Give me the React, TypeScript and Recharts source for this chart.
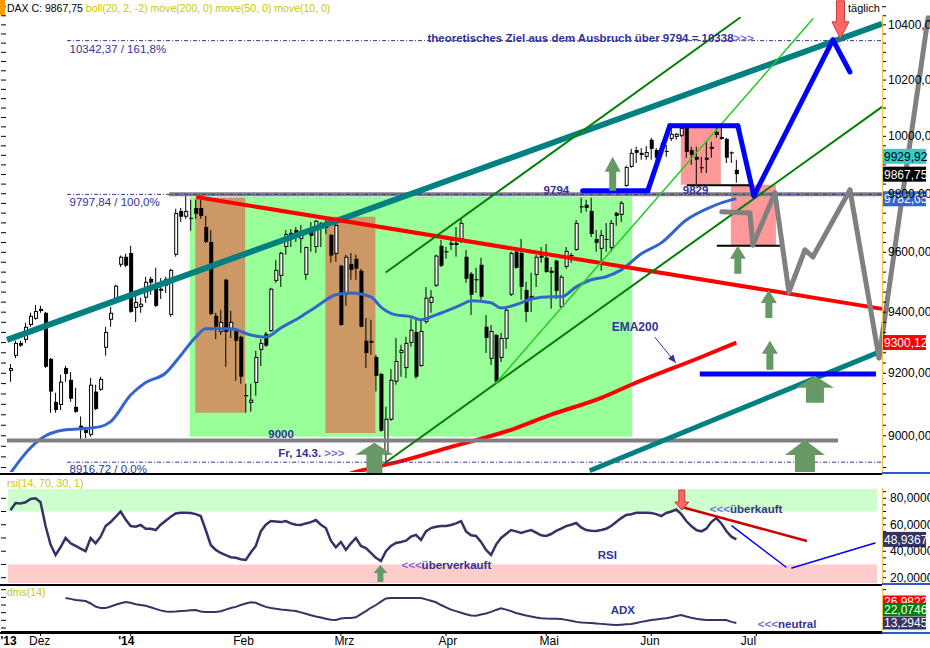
import React from 'react';
import {
  ComposedChart, Bar, Line, XAxis, YAxis,
  ReferenceLine, ReferenceArea, ReferenceDot,
} from 'recharts';

const FONT = 'Arial, "Liberation Sans", Helvetica, sans-serif';
const NAVY = '#333399';
const LIGHT = '#7070dd';

// ---------- DAX daily candles (22.11.2013 - 25.06.2014), index = trading day ----------
const opens = [
  9208, 9257, 9299, 9309, 9358, 9378, 9404, 9398, 9247, 9108,
  9098, 9217, 9179, 9092, 9032, 9019, 9003, 9141, 9147, 9283,
  9375, 9444, 9558, 9585, 9598, 9414, 9417, 9448, 9511, 9481,
  9471, 9488, 9391, 9592, 9741, 9721, 9717, 9751, 9751, 9686,
  9635, 9388, 9335, 9508, 9345, 9338, 9319, 9130, 9105, 9169,
  9276, 9329, 9338, 9504, 9521, 9618, 9666, 9676, 9645, 9524,
  9669, 9618, 9690, 9703, 9659, 9595, 9555, 9458, 9561, 9578,
  9538, 9306, 9299, 9253, 9198, 8940, 9051, 9173, 9266, 9217,
  9299, 9335, 9224, 9368, 9431, 9488, 9622, 9604, 9632, 9632,
  9645, 9585, 9528, 9510, 9558, 9352, 9247, 9325, 9250, 9312,
  9458, 9602, 9598, 9474, 9454, 9524, 9582, 9582, 9538, 9572,
  9417, 9551, 9591, 9608, 9753, 9762, 9741, 9645, 9612, 9642,
  9615, 9734, 9727, 9827, 9893, 9952, 9935, 9928, 9988, 9952,
  9958, 9945, 9991, 9998, 10002, 10030, 9952, 9928, 9892, 9925,
  9963, 10016, 9998, 9991, 9944, 9883,
];
const highs = [
  9230, 9306, 9306, 9365, 9398, 9424, 9421, 9401, 9250, 9137,
  9195, 9224, 9204, 9153, 9061, 9029, 9185, 9163, 9189, 9352,
  9417, 9491, 9589, 9595, 9622, 9458, 9448, 9518, 9518, 9548,
  9514, 9518, 9545, 9748, 9751, 9794, 9779, 9779, 9779, 9724,
  9676, 9398, 9408, 9511, 9404, 9348, 9322, 9166, 9166, 9273,
  9312, 9335, 9481, 9575, 9602, 9676, 9679, 9686, 9693, 9620,
  9703, 9710, 9703, 9710, 9662, 9700, 9558, 9592, 9598, 9592,
  9545, 9381, 9375, 9260, 9201, 9092, 9214, 9315, 9293, 9319,
  9378, 9375, 9375, 9484, 9474, 9592, 9642, 9618, 9642, 9686,
  9714, 9608, 9534, 9548, 9582, 9391, 9358, 9328, 9332, 9417,
  9602, 9618, 9645, 9501, 9531, 9592, 9618, 9628, 9551, 9575,
  9524, 9618, 9598, 9710, 9786, 9779, 9786, 9676, 9676, 9700,
  9710, 9738, 9775, 9897, 9956, 9963, 9959, 9966, 9995, 9959,
  9977, 9970, 10030, 10012, 10033, 10036, 9963, 9963, 9928, 9981,
  9981, 10030, 10047, 9995, 9947, 9918,
];
const lows = [
  9173, 9250, 9286, 9299, 9352, 9375, 9398, 9217, 9073, 9073,
  9082, 9173, 9108, 9073, 8984, 8993, 8997, 9082, 9144, 9257,
  9352, 9438, 9551, 9551, 9398, 9368, 9398, 9431, 9458, 9417,
  9444, 9464, 9385, 9585, 9703, 9714, 9673, 9714, 9714, 9632,
  9391, 9312, 9325, 9221, 9315, 9176, 9166, 9073, 9076, 9128,
  9224, 9286, 9335, 9498, 9484, 9592, 9618, 9635, 9598, 9508,
  9602, 9598, 9618, 9662, 9565, 9568, 9355, 9421, 9508, 9508,
  9350, 9217, 9260, 9141, 9013, 8916.72, 9048, 9163, 9189, 9185,
  9286, 9182, 9221, 9362, 9398, 9484, 9551, 9578, 9608, 9585,
  9632, 9498, 9391, 9464, 9441, 9266, 9227, 9169, 9237, 9280,
  9454, 9545, 9441, 9368, 9401, 9484, 9565, 9531, 9411, 9444,
  9414, 9545, 9565, 9605, 9734, 9738, 9652, 9602, 9538, 9602,
  9602, 9690, 9703, 9824, 9890, 9907, 9918, 9918, 9918, 9900,
  9928, 9928, 9984, 9988, 9998, 9925, 9900, 9834, 9872, 9872,
  9925, 9995, 9988, 9907, 9907, 9838,
];
const closes = [
  9217, 9299, 9290, 9352, 9388, 9404, 9411, 9221, 9141, 9082,
  9173, 9198, 9118, 9076, 9019, 9009, 9163, 9085, 9182, 9335,
  9398, 9488, 9585, 9555, 9401, 9434, 9428, 9501, 9498, 9421,
  9478, 9511, 9541, 9734, 9721, 9741, 9714, 9731, 9724, 9635,
  9394, 9352, 9368, 9335, 9368, 9306, 9189, 9126, 9115, 9253,
  9299, 9290, 9478, 9541, 9598, 9662, 9656, 9656, 9666, 9618,
  9656, 9707, 9700, 9683, 9589, 9693, 9358, 9585, 9541, 9545,
  9352, 9266, 9306, 9192, 9016, 9054, 9179, 9240, 9276, 9299,
  9342, 9189, 9338, 9448, 9451, 9589, 9555, 9600, 9625, 9625,
  9700, 9511, 9458, 9506, 9451, 9315, 9338, 9173, 9315, 9408,
  9598, 9548, 9484, 9401, 9448, 9585, 9589, 9534, 9531, 9471,
  9518, 9605, 9587, 9700, 9757, 9751, 9662, 9632, 9659, 9645,
  9700, 9724, 9769, 9893, 9942, 9942, 9942, 9945, 9956, 9925,
  9954, 9949, 10009, 10009, 10030, 9945, 9935, 9918, 9888, 9918,
  9956, 10005, 9991, 9925, 9940, 9867.75,
];

// moving averages: [trading-day index, value]
const ma50Points = [
  [0, 8883], [4, 8962], [6, 8990], [11, 9019], [14, 9022], [18, 9029], [20, 9045],
  [24, 9130], [27, 9170], [31, 9201], [34, 9258], [37, 9318], [39, 9345], [44, 9345],
  [48, 9325], [51, 9318], [54, 9348], [58, 9385], [61, 9417], [65, 9458], [68, 9464],
  [72, 9451], [74, 9417], [77, 9391], [80, 9385], [82, 9375], [85, 9391], [90, 9424],
  [92, 9438], [96, 9431], [98, 9414], [102, 9431], [104, 9444], [108, 9451], [110, 9451],
  [113, 9484], [116, 9508], [119, 9518], [122, 9541], [126, 9595], [130, 9632],
  [135, 9710], [140, 9755], [144, 9779], [145, 9782.65],
];
const ema200Points = [
  [66, 8872], [69, 8886], [78, 8920], [88, 8965], [100, 9019], [108, 9067],
  [118, 9121], [124, 9163], [138, 9253], [145, 9300.12],
];

const rsiValues = [
  71, 76.4, 76, 77, 79.5, 80, 77, 59, 45, 37.2,
  43, 50, 46, 44, 42, 40, 50, 46, 51, 59,
  62, 66, 70, 64, 59, 58.5, 59.8, 57, 57, 56,
  60, 63, 66, 68.5, 69, 69, 68.9, 68, 66.6, 56,
  44.7, 41, 38.7, 37, 35.5, 35, 34, 33.4, 39, 44,
  55, 60, 62.8, 62.5, 62, 62.8, 61, 60, 59.8, 61,
  62, 63.6, 60, 57.5, 48, 43, 47, 41, 46, 50,
  44, 42.4, 38.7, 35, 32.6, 40, 44, 46.2, 47, 48,
  51, 52.3, 48.5, 55, 57.5, 58.5, 59, 59, 59.8, 61,
  62.8, 55, 52, 51.5, 47, 41, 37.2, 45, 50, 53,
  56, 55, 53.8, 55, 56, 54, 52, 51.5, 53, 55.3,
  57, 59, 60, 61.3, 58, 56, 55.5, 55.3, 56, 57,
  59, 62, 65, 67.4, 68, 69, 69, 69, 68.9, 68,
  66.6, 68.9, 70, 71.5, 68, 62.8, 59, 56, 55, 57,
  62, 65, 61, 55.3, 51, 48.9367,
];
const adxValues = [
  null, null, null, null, null, null, null, null, null, null,
  null, 29.6, 29, 28.3, 28, 27.6, 26, 24, 23, 23,
  24, 25.2, 26.2, 27, 26.5, 25.5, 25, 24.5, 23.5, 22.5,
  21.5, 20.8, 20.6, 20.8, 21.1, 21.3, 21.6, 21.8, 20.8, 20.5,
  20.5, 20.5, 21, 22, 23, 23.8, 25, 26, 26.8, 26.5,
  25, 23.8, 23, 22.5, 22.1, 21.8, 21.4, 21.1, 20.2, 19.3,
  18.3, 17.5, 16.8, 16.1, 15.4, 15.2, 16.2, 16.5, 16.5, 17,
  19, 21, 23.2, 25, 27.2, 29.3, 29.6, 29.6, 29.6, 29.6,
  29.6, 29.6, 29.6, 28.7, 27.8, 26.8, 25, 23.5, 22, 21,
  20, 19, 18.2, 18, 18.8, 19.5, 20.5, 21.8, 22.8, 22,
  21, 19.8, 19, 18.2, 17.5, 16.8, 16.4, 16.2, 16.1, 16,
  15.9, 15.3, 14.7, 14, 13.6, 13.4, 13.3, 13, 12.7, 12.4,
  12.2, 12, 12.2, 12.4, 12.6, 13.3, 14, 14.6, 15.2, 15.6,
  16, 16.4, 17, 17.8, 18.5, 17.5, 16.7, 16, 15.6, 15.2,
  15.2, 15.2, 15.2, 15.2, 14, 13.2945,
];

const monthTickIndex = [0, 6, 24, 46, 66, 87, 107, 128, 149];
const monthTickLabel = ["'13", 'Dez', "'14", 'Feb', 'Mrz', 'Apr', 'Mai', 'Jun', 'Jul'];
const monthLabelShift = [-10, -11.5, -12.5, -7.5, -6.5, -7.5, -6.5, -11, -15.5];

// ---------- drawn objects (trading-day index, price) ----------
const tealUpper = [[-0.7, 9309], [174.1, 10404]];
const tealLower = [[115.7, 8890], [174.1, 9273]];
const redDown = [[37.1, 9789], [174.1, 9411]];
const greenLow = [[75, 8916.72], [174.1, 10104]];
const greenHigh = [[75.1, 9534], [145.7, 10426]];
const limeLine = [[97, 9169], [160.3, 10422]];
const blueProj = [[114.3, 9810], [127.3, 9810], [131.7, 10037], [145.3, 10037], [148.5, 9793], [164.3, 10345], [167.7, 10229]];
const blueLow = [[137.7, 9198], [172.9, 9198]];
const grayProj = [[142.1, 9738], [147.7, 9734], [148.3, 9625], [152.7, 9803], [155.5, 9467], [158.7, 9608], [160.3, 9585], [167.7, 9813], [173.5, 9250], [183.3, 10426]];
const emaArrow = [[128.7, 9318], [132.9, 9234]];

const priceTags = [
  { v: 9929.92, bg: '#33cccc', fg: '#000' },
  { v: 9867.75, bg: '#000000', fg: '#fff' },
  { v: 9782.65, bg: '#3366cc', fg: '#fff' },
  { v: 9300.12, bg: '#ff0000', fg: '#fff' },
];
const adxTags = [
  { v: 26.9822, bg: '#ff0000', fg: '#fff' },
  { v: 22.0746, bg: '#008000', fg: '#fff' },
  { v: 13.2945, bg: '#333366', fg: '#fff' },
];

const X_DOMAIN = [-1.9, 174.1];
const X_RIGHT = 174.1;
const PRICE_DOMAIN = [8886, 10484];
const RSI_DOMAIN = [16, 87];
const ADX_DOMAIN = [7.4, 36.1];

const priceTicks: number[] = [];
for (let k = -3; k <= 44; k++) priceTicks.push(9000 + (k * 200) / 6);
const rsiTicks = [20, 25, 30, 35, 40, 45, 50, 55, 60, 65, 70, 75, 80, 85];
const rsiLeftTicks = [20, 30, 40, 50, 60, 70, 80];
const adxTicks = [10, 15, 20, 25, 30, 35];

const maMap = new Map(ma50Points.map((p) => [p[0], p[1]]));
const emaMap = new Map(ema200Points.map((p) => [p[0], p[1]]));

const candleRows = opens.map((o, i) => ({
  i,
  o,
  c: closes[i],
  wick: [lows[i], highs[i]],
  body: [Math.min(o, closes[i]), Math.max(o, closes[i])],
  ma: maMap.has(i) ? maMap.get(i) : null,
  ema: emaMap.has(i) ? emaMap.get(i) : null,
}));
const rsiRows = rsiValues.map((v, i) => ({ i, rsi: v }));
const adxRows = adxValues.map((v, i) => ({ i, adx: v }));

const fmt = (v: number, d: number) => v.toFixed(d).replace('.', ',');

// ---------- render helpers ----------
const EmptyTick = () => <g />;

function PriceTick(props: any) {
  const { x, y, payload } = props;
  const v = payload.value;
  if (Math.abs(v / 200 - Math.round(v / 200)) > 1e-6) return <g />;
  return (
    <text x={x} y={y + 4} fontSize={12} fontFamily={FONT} fill="#000" textAnchor="start">
      {fmt(v, 2)}
    </text>
  );
}
function RsiTick(props: any) {
  const { x, y, payload } = props;
  const v = payload.value;
  if (v % 20 !== 0) return <g />;
  return (
    <text x={x} y={y + 4} fontSize={12} fontFamily={FONT} fill="#000" textAnchor="start">
      {fmt(v, 4)}
    </text>
  );
}
function MonthTick(props: any) {
  const { x, y, payload } = props;
  const k = monthTickIndex.indexOf(payload.value);
  const label = monthTickLabel[k] ?? '';
  const bold = label.startsWith("'");
  return (
    <g>
      {k > 0 && <line x1={x} x2={x} y1={y - 4} y2={y} stroke="#000" />}
      <text x={x + (monthLabelShift[k] ?? -7)} y={y + 9} fontSize={12} fontWeight={bold ? 'bold' : 'normal'} fontFamily={FONT} fill="#000">
        {label}
      </text>
    </g>
  );
}

function BodyShape(props: any) {
  const { x, y, width, height, payload } = props;
  if (x == null || y == null || !payload) return <g />;
  const h = Math.max(1, height);
  const up = payload.c >= payload.o;
  return (
    <g>
      <rect x={x} y={y} width={width} height={h} fill="#000" />
      {up && h > 2 && <rect x={x + 1} y={y + 1} width={width - 2} height={h - 2} fill="#fff" />}
    </g>
  );
}

const polyline = (pts: number[][], stroke: string, width: number, key: string, extra: any = {}) =>
  pts.slice(1).map((p, k) => (
    <ReferenceLine
      key={`${key}-${k}`}
      segment={[{ x: pts[k][0], y: pts[k][1] }, { x: p[0], y: p[1] }]}
      stroke={stroke}
      strokeWidth={width}
      strokeLinecap="round"
      ifOverflow="visible"
      {...extra}
    />
  ));

const upArrow = (hw: number, hh: number, sw: number, total: number, color: string) => (p: any) => {
  const { cx, cy } = p;
  const pts = [
    [cx, cy], [cx + hw / 2, cy + hh], [cx + sw / 2, cy + hh], [cx + sw / 2, cy + total],
    [cx - sw / 2, cy + total], [cx - sw / 2, cy + hh], [cx - hw / 2, cy + hh],
  ];
  return <polygon points={pts.map((q) => q.join(',')).join(' ')} fill={color} />;
};
const downArrow = (hw: number, hh: number, sw: number, total: number) => (p: any) => {
  const { cx, cy } = p;
  const pts = [
    [cx, cy], [cx + hw / 2, cy - hh], [cx + sw / 2, cy - hh], [cx + sw / 2, cy - total],
    [cx - sw / 2, cy - total], [cx - sw / 2, cy - hh], [cx - hw / 2, cy - hh],
  ];
  return <polygon points={pts.map((q) => q.join(',')).join(' ')} fill="#ff6666" stroke="#cc3333" strokeWidth={1} />;
};
const arrowHead = (angle: number, color: string) => (p: any) => (
  <polygon points="0,0 -8,-3.5 -8,3.5" transform={`translate(${p.cx},${p.cy}) rotate(${angle})`} fill={color} />
);

const textShape = (parts: [string, string][], dy: number, size: number, bold: boolean) => (p: any) => (
  <text x={p.cx} y={p.cy + dy} fontSize={size} fontWeight={bold ? 'bold' : 'normal'} fontFamily={FONT}>
    {parts.map((q, k) => (
      <tspan key={k} fill={q[1]}>{q[0]}</tspan>
    ))}
  </text>
);
const tagShape = (label: string, bg: string, fg: string, h: number) => (p: any) => (
  <g>
    <rect x={p.cx} y={p.cy - h / 2} width={44} height={h} fill={bg} />
    <text x={p.cx + 2} y={p.cy + 4.5} fontSize={12} fontFamily={FONT} fill={fg}>{label}</text>
  </g>
);

const dot = (x: number, y: number, shape: any, key: string) => (
  <ReferenceDot key={key} x={x} y={y} r={1} shape={shape} ifOverflow="visible" />
);

// ---------- charts ----------
function MainChart() {
  const mainTexts: [number, number, [string, string][], number, number, boolean][] = [
    [83.3, 10342.37, [['theoretisches Ziel aus dem Ausbruch über 9794 = 10338', NAVY], ['>>>', LIGHT]], 1, 11.5, true],
    [11.8, 10342.37, [['10342,37 / 161,8%', NAVY]], 12, 11.5, false],
    [11.8, 9797.84, [['9797,84 / 100,0%', NAVY]], 11.5, 11.5, false],
    [11.8, 8916.72, [['8916,72 / 0,0%', NAVY]], 11, 11.5, false],
    [106.5, 9797.84, [['9794', NAVY]], -0.5, 11.5, true],
    [134.3, 9829, [['9829', NAVY]], 9, 11.5, true],
    [51.5, 8985, [['9000', NAVY]], -2.5, 11.5, true],
    [53.5, 8916.72, [['Fr, 14.3. ', NAVY], ['>>>', LIGHT]], -5, 11.5, true],
    [120.1, 9318, [['EMA200', NAVY]], -6, 12, true],
  ];
  return (
    <ComposedChart width={930} height={475} data={candleRows} margin={{ top: 2, right: 0, bottom: 3, left: 1 }}>
      <XAxis type="number" dataKey="i" domain={X_DOMAIN} allowDataOverflow hide />
      <XAxis xAxisId="w" type="number" dataKey="i" domain={X_DOMAIN} allowDataOverflow hide />
      <XAxis xAxisId="b" type="number" dataKey="i" domain={X_DOMAIN} allowDataOverflow hide />
      <YAxis
        orientation="right" width={48} scale="log" domain={PRICE_DOMAIN} allowDataOverflow
        ticks={priceTicks} interval={0} tickSize={4} tickMargin={2}
        tickLine={{ stroke: '#000' }} axisLine={false} tick={PriceTick}
      />
      <YAxis
        yAxisId="L" orientation="left" width={1} mirror scale="log" domain={PRICE_DOMAIN} allowDataOverflow
        ticks={priceTicks} interval={0} tickSize={5} tickLine={{ stroke: '#000' }} axisLine={false} tick={EmptyTick}
      />

      <ReferenceArea x1={35.8} x2={124.2} y1={8997} y2={9790} fill="#99ff99" fillOpacity={1} ifOverflow="visible" />
      <ReferenceArea x1={36.9} x2={46.9} y1={9073} y2={9786} fill="#cc9966" fillOpacity={1} ifOverflow="visible" />
      <ReferenceArea x1={62.9} x2={72.9} y1={9009} y2={9721} fill="#cc9966" fillOpacity={1} ifOverflow="visible" />
      <ReferenceArea x1={133.9} x2={141.9} y1={9831} y2={10040} fill="#ff9999" fillOpacity={1} ifOverflow="visible" />
      <ReferenceArea x1={143.9} x2={152.9} y1={9622} y2={9831} fill="#ff9999" fillOpacity={1} ifOverflow="visible" />

      <Bar xAxisId="w" dataKey="wick" barSize={1} fill="#000" isAnimationActive={false} />
      <Bar xAxisId="b" dataKey="body" barSize={4} shape={BodyShape} minPointSize={1} isAnimationActive={false} />

      <Line dataKey="ma" type="monotone" stroke="#3366cc" strokeWidth={3} dot={false} connectNulls isAnimationActive={false} />
      <Line dataKey="ema" type="monotone" stroke="#ff0000" strokeWidth={4} dot={false} connectNulls isAnimationActive={false} />

      {polyline([[11.3, 10342.37], [X_RIGHT, 10342.37]], NAVY, 1, 'fib161', { strokeDasharray: '4 2 1 2', strokeLinecap: 'butt' })}
      {polyline([[31.7, 9797.84], [X_RIGHT, 9797.84]], '#808080', 4, 'g100', { strokeLinecap: 'butt' })}
      {polyline([[11.3, 9797.84], [X_RIGHT, 9797.84]], NAVY, 1, 'fib100', { strokeDasharray: '4 2 1 2', strokeLinecap: 'butt' })}
      {polyline([[-0.7, 8985], [165.3, 8985]], '#808080', 4, 'g9000', { strokeLinecap: 'butt' })}
      {polyline([[11.3, 8916.72], [X_RIGHT, 8916.72]], NAVY, 1, 'fib0', { strokeDasharray: '4 2 1 2', strokeLinecap: 'butt' })}

      {polyline(tealUpper, '#008080', 6, 'tealU', { strokeLinecap: 'butt' })}
      {polyline(tealLower, '#008080', 5, 'tealL', { strokeLinecap: 'butt' })}
      {polyline(redDown, '#ff0000', 4, 'redD', { strokeLinecap: 'butt' })}
      {polyline(greenLow, '#008000', 2, 'grL')}
      {polyline(greenHigh, '#008000', 2, 'grH')}
      {polyline(limeLine, '#22cc22', 1.5, 'lime')}

      {polyline([[135.1, 9829], [147.7, 9829]], '#000', 2, 'b9829', { strokeLinecap: 'butt' })}
      {polyline([[141.1, 9622], [153.7, 9622]], '#000', 2, 'b9622', { strokeLinecap: 'butt' })}

      {polyline(blueProj, '#0000ff', 5, 'blueP')}
      {polyline(blueLow, '#0000ff', 5, 'blueL', { strokeLinecap: 'butt' })}
      {polyline(emaArrow, NAVY, 1, 'emaA', { strokeLinecap: 'butt' })}
      {dot(emaArrow[1][0], emaArrow[1][1], arrowHead(51, NAVY), 'emaHead')}

      {dot(120.3, 9928, upArrow(16, 15, 7, 34, '#669966'), 'a1')}
      {dot(145.3, 9622, upArrow(16, 13, 7, 28, '#669966'), 'a2')}
      {dot(151.5, 9474, upArrow(16, 13, 7, 28, '#669966'), 'a3')}
      {dot(151.7, 9306, upArrow(16, 13, 7, 29, '#669966'), 'a4')}
      {dot(160.7, 9192, upArrow(38, 12, 18, 27, '#669966'), 'a5')}
      {dot(158.7, 8987, upArrow(40, 15, 20, 32, '#669966'), 'a6')}
      {dot(72.7, 8978, upArrow(38, 12, 16, 32, '#669966'), 'a7')}
      {dot(165.8, 10349, downArrow(17, 17, 8, 38), 'r1')}

      {mainTexts.map((t, k) => dot(t[0], t[1], textShape(t[2], t[3], t[4], t[5]), `t${k}`))}

      {priceTags.map((t, k) => dot(X_RIGHT, t.v, tagShape(fmt(t.v, 2), t.bg, t.fg, 15), `tag${k}`))}

      {polyline(grayProj, '#808080', 5, 'grayP')}
    </ComposedChart>
  );
}

function RsiChart() {
  return (
    <ComposedChart width={930} height={110} data={rsiRows} margin={{ top: 14, right: 0, bottom: 2, left: 1 }}>
      <XAxis type="number" dataKey="i" domain={X_DOMAIN} allowDataOverflow hide />
      <YAxis
        orientation="right" width={48} domain={RSI_DOMAIN} allowDataOverflow ticks={rsiTicks} interval={0}
        tickSize={4} tickMargin={4} tickLine={{ stroke: '#000' }} axisLine={false} tick={RsiTick}
      />
      <YAxis
        yAxisId="L" orientation="left" width={1} mirror domain={RSI_DOMAIN} allowDataOverflow ticks={rsiLeftTicks}
        interval={0} tickSize={5} tickLine={{ stroke: '#000' }} axisLine={false} tick={EmptyTick}
      />
      <ReferenceArea x1={-0.5} x2={173.1} y1={70} y2={87} fill="#ccffcc" fillOpacity={1} ifOverflow="visible" />
      <ReferenceArea x1={-0.5} x2={173.1} y1={16} y2={30} fill="#ffcccc" fillOpacity={1} ifOverflow="visible" />
      <Line dataKey="rsi" type="linear" stroke="#333366" strokeWidth={2.5} dot={false} isAnimationActive={false} />
      {polyline([[134.1, 73.4], [159.1, 47.7]], '#cc0000', 2.5, 'rsiRed', { strokeLinecap: 'butt' })}
      {polyline([[144.1, 59.1], [154.9, 28.1]], '#0000ff', 1.5, 'rsiB1')}
      {polyline([[156.1, 27.3], [172.7, 46.2]], '#0000ff', 1.5, 'rsiB2')}
      {dot(134.1, 71.1, downArrow(14, 8, 6, 20), 'rsiDown')}
      {dot(73.9, 29.6, upArrow(14, 8, 6, 17, '#669966'), 'rsiUp')}
      {dot(139.7, 70, textShape([['<<<', LIGHT], ['überkauft', NAVY]], 1.5, 11.5, true), 'rsiT1')}
      {dot(78.1, 30, textShape([['<<<', LIGHT], ['überverkauft', NAVY]], 4.5, 11.5, true), 'rsiT2')}
      {dot(117.3, 30, textShape([['RSI', NAVY]], -5, 11.5, true), 'rsiT3')}
      {dot(X_RIGHT, 48.9367, tagShape(fmt(48.9367, 4), '#333366', '#fff', 15), 'rsiTag')}
    </ComposedChart>
  );
}

function AdxChart() {
  return (
    <ComposedChart width={930} height={63} data={adxRows} margin={{ top: 3, right: 0, bottom: 0, left: 1 }}>
      <XAxis
        type="number" dataKey="i" domain={X_DOMAIN} allowDataOverflow ticks={monthTickIndex} interval={0}
        height={16} tickSize={4} tickMargin={0} tickLine={false} axisLine={{ stroke: '#000', strokeWidth: 2 }} tick={MonthTick}
      />
      <YAxis
        orientation="right" width={48} domain={ADX_DOMAIN} allowDataOverflow ticks={adxTicks} interval={0}
        tickSize={4} tickLine={{ stroke: '#000' }} axisLine={false} tick={EmptyTick}
      />
      <YAxis
        yAxisId="L" orientation="left" width={1} mirror domain={ADX_DOMAIN} allowDataOverflow ticks={adxTicks}
        interval={0} tickSize={5} tickLine={{ stroke: '#000' }} axisLine={false} tick={EmptyTick}
      />
      <Line dataKey="adx" type="linear" stroke="#333366" strokeWidth={2} dot={false} isAnimationActive={false} />
      {dot(119.9, 19.2, textShape([['ADX', NAVY]], 0, 11.5, true), 'adxT')}
      {dot(149.3, 10, textShape([['<<<', LIGHT], ['neutral', NAVY]], 0, 11.5, true), 'adxN')}
      {adxTags.map((t, k) => dot(X_RIGHT, t.v, tagShape(fmt(t.v, 4), t.bg, t.fg, 13), `adxTag${k}`))}
    </ComposedChart>
  );
}

const abs = (l: number, t: number, w: number, h: number, extra: any = {}) => ({
  position: 'absolute' as const, left: l, top: t, width: w, height: h, ...extra,
});

export default function App() {
  return (
    <div style={abs(0, 0, 930, 648, { background: '#fff', overflow: 'hidden', fontFamily: FONT })}>
      <div style={abs(0, 0, 930, 475, { overflow: 'hidden' })}><MainChart /></div>
      <div style={abs(0, 475, 930, 110, { overflow: 'hidden' })}><RsiChart /></div>
      <div style={abs(0, 585, 930, 63, { overflow: 'hidden' })}><AdxChart /></div>

      {/* panel frames */}
      <div style={abs(882, 15, 1, 457, { background: '#f2c14e' })} />
      <div style={abs(882, 488, 1, 95, { background: '#f2c14e' })} />
      <div style={abs(882, 588, 1, 44, { background: '#f2c14e' })} />
      <div style={abs(0, 473, 882, 2, { background: '#000' })} />
      <div style={abs(882, 472, 48, 2, { background: '#3355cc' })} />
      <div style={abs(0, 584, 882, 2, { background: '#000' })} />
      <div style={abs(882, 583, 48, 2, { background: '#3355cc' })} />
      <div style={abs(0, 632, 882, 2, { background: '#000' })} />
      <div style={abs(882, 632, 48, 2, { background: '#3355cc' })} />

      {/* titles */}
      <div style={abs(0, 0, 5, 15, { background: '#ff9900' })} />
      <div style={abs(7, 1, 400, 14, { fontSize: 10.5, lineHeight: '14px', whiteSpace: 'nowrap' })}>
        <span style={{ color: '#000' }}>DAX C: 9867,75 </span>
        <span style={{ color: '#c8c800' }}>boll(20, 2, -2) move(200, 0) move(50, 0) move(10, 0)</span>
      </div>
      <div style={abs(848, 1, 40, 14, { fontSize: 11, lineHeight: '14px', color: '#000' })}>täglich</div>
      <div style={abs(7, 477, 200, 12, { fontSize: 10.5, lineHeight: '12px', color: '#c8c800', whiteSpace: 'nowrap' })}>rsi(14, 70, 30, 1)</div>
      <div style={abs(7, 586, 200, 12, { fontSize: 10.5, lineHeight: '12px', color: '#c8c800', whiteSpace: 'nowrap' })}>dms(14)</div>
    </div>
  );
}
